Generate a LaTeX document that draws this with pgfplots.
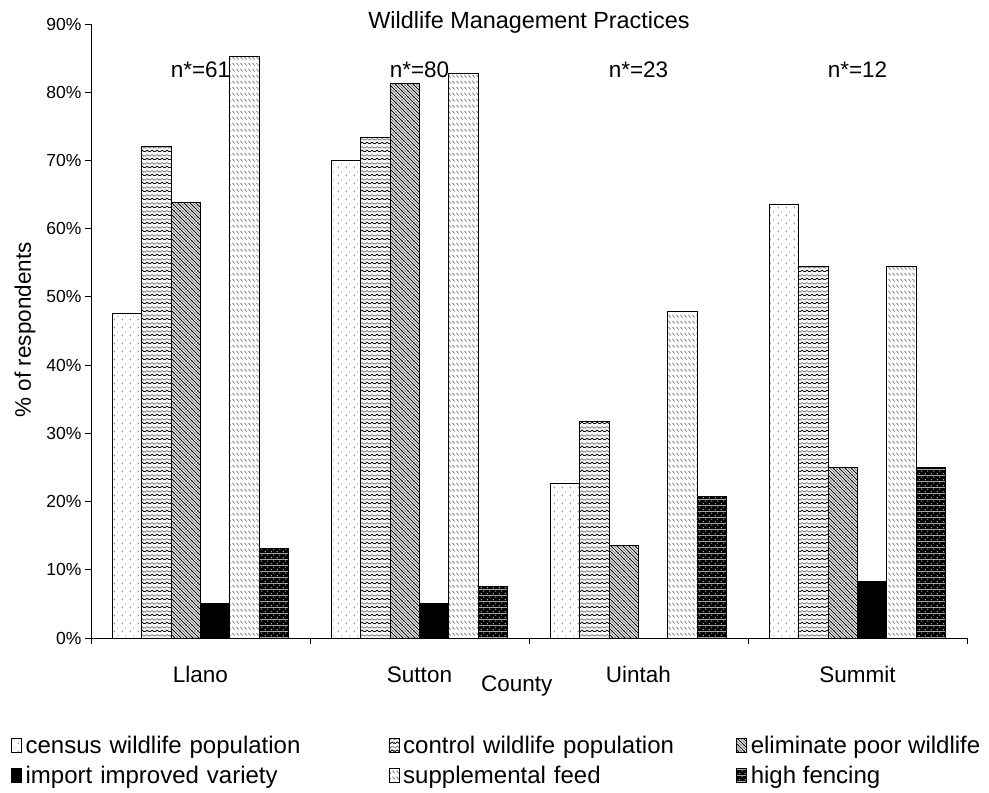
\documentclass[border=0pt]{standalone}
\usepackage{pgfplots}
\pgfplotsset{compat=1.18}
\usepackage{fontspec}
\setmainfont{Liberation Sans}
\usetikzlibrary{patterns}

\pgfdeclarepatterninherentlycolored{censusdots}{\pgfpointorigin}{\pgfpoint{8pt}{8pt}}{\pgfpoint{8pt}{8pt}}{%
  \pgfsetfillcolor{black!65}%
  \pgfpathrectangle{\pgfpoint{2pt}{1pt}}{\pgfpoint{0.9pt}{1.6pt}}%
  \pgfusepath{fill}%
  \pgfsetfillcolor{black!30}%
  \pgfpathrectangle{\pgfpoint{6pt}{5pt}}{\pgfpoint{0.9pt}{1.6pt}}%
  \pgfusepath{fill}%
}
\pgfdeclarepatterninherentlycolored{zigzag}{\pgfpoint{0pt}{0pt}}{\pgfpoint{5pt}{8pt}}{\pgfpoint{5pt}{8pt}}{%
  \pgfsetlinewidth{0.9pt}%
  \pgfsetstrokecolor{black}%
  \pgfpathmoveto{\pgfpoint{-0.2pt}{1.2pt}}\pgfpathlineto{\pgfpoint{2.5pt}{3.2pt}}\pgfpathlineto{\pgfpoint{5.2pt}{1.2pt}}%
  \pgfusepath{stroke}%
  \pgfsetstrokecolor{black!50}%
  \pgfpathmoveto{\pgfpoint{-0.2pt}{5.2pt}}\pgfpathlineto{\pgfpoint{2.5pt}{7.2pt}}\pgfpathlineto{\pgfpoint{5.2pt}{5.2pt}}%
  \pgfusepath{stroke}%
}
\pgfdeclarepatterninherentlycolored{nwdense}{\pgfpoint{-1pt}{-1pt}}{\pgfpoint{7pt}{7pt}}{\pgfpoint{6pt}{6pt}}{%
  \pgfsetlinewidth{0.8pt}%
  \pgfsetstrokecolor{black}%
  \pgfpathmoveto{\pgfpoint{-0.5pt}{6.5pt}}\pgfpathlineto{\pgfpoint{6.5pt}{-0.5pt}}%
  \pgfusepath{stroke}%
  \pgfsetstrokecolor{black!50}%
  \pgfpathmoveto{\pgfpoint{-0.5pt}{3.5pt}}\pgfpathlineto{\pgfpoint{3.5pt}{-0.5pt}}%
  \pgfpathmoveto{\pgfpoint{2.5pt}{6.5pt}}\pgfpathlineto{\pgfpoint{6.5pt}{2.5pt}}%
  \pgfusepath{stroke}%
}
\pgfdeclarepatternformonly{shortdash}{\pgfpointorigin}{\pgfpoint{4pt}{6pt}}{\pgfpoint{4pt}{6pt}}{%
  \pgfsetlinewidth{0.8pt}%
  \pgfpathmoveto{\pgfpoint{0.6pt}{4.8pt}}\pgfpathlineto{\pgfpoint{3.2pt}{1.8pt}}%
  \pgfusepath{stroke}%
}
\pgfdeclarepatterninherentlycolored{whitedots}{\pgfpointorigin}{\pgfpoint{6pt}{6pt}}{\pgfpoint{6pt}{6pt}}{%
  \pgfsetfillcolor{black}%
  \pgfpathrectangle{\pgfpoint{-0.1pt}{-0.1pt}}{\pgfpoint{6.2pt}{6.2pt}}%
  \pgfusepath{fill}%
  \pgfsetfillcolor{white}%
  \pgfpathrectangle{\pgfpoint{1pt}{1pt}}{\pgfpoint{0.9pt}{1.2pt}}%
  \pgfpathrectangle{\pgfpoint{4pt}{4pt}}{\pgfpoint{0.9pt}{1.2pt}}%
  \pgfusepath{fill}%
}

\pgfplotstableread{
x census control eliminate supplemental fencing
0 47.5 72.1 63.9 85.2 13.1
1 70.0 73.4 81.3 82.8 7.5
2 22.7 31.8 13.6 47.8 20.8
3 63.6 54.5 25.0 54.5 25.0
}\data
\pgfplotstableread{
x import
0 5.0
1 5.0
3 8.3
}\importdata

\begin{document}
\begin{tikzpicture}
\begin{axis}[
  name=main,
  scale only axis,
  width=876pt, height=614pt,
  xmin=-0.5, xmax=3.5,
  ymin=0, ymax=90,
  axis lines*=left,
  axis line style={-, line width=0.8pt},
  tick align=outside,
  major tick length=6pt,
  tick style={black, line width=0.8pt},
  xtick={-0.5,0.5,1.5,2.5,3.5},
  xticklabels={,,,,},
  ytick={0,10,...,90},
  yticklabel={\pgfmathprintnumber{\tick}\%},
  /pgf/number format/assume math mode=true,
  tick label style={font=\fontsize{17.5}{20}\selectfont},
  ybar=0pt,
  bar width=0.1342,
  clip=false,
  every axis plot/.append style={draw=black, line width=1pt},
  legend columns=3,
  legend cell align=left,
  legend style={draw=none, fill=none, at={(-0.0913,-0.1564)}, anchor=north west,
    inner sep=0pt, outer sep=0pt, row sep=7pt, column sep=2pt,
    nodes={inner sep=2pt},
    font=\fontsize{24}{28}\selectfont,
    /tikz/column 2/.style={text width=359pt},
    /tikz/column 4/.style={text width=329pt}},
  legend image code/.code={\draw[#1, line width=0.6pt] (0pt,-7pt) rectangle (10pt,7pt);},
]
\addplot[pattern=censusdots] table[x=x, y=census] {\data};
\addplot[pattern=zigzag] table[x=x, y=control] {\data};
\addplot[pattern=nwdense] table[x=x, y=eliminate] {\data};
\addplot[fill=black] table[x=x, y=import] {\importdata};
\addplot[pattern=shortdash, pattern color=black!60] table[x=x, y=supplemental] {\data};
\addplot[pattern=whitedots] table[x=x, y=fencing] {\data};
\legend{census wildlife population, control wildlife population, eliminate poor wildlife, import improved variety, supplemental feed, high fencing}

\node[font=\fontsize{23.4}{27}\selectfont] at (axis description cs:0.5,1.002) {Wildlife Management Practices};
\node[font=\fontsize{22.5}{26}\selectfont] at (axis cs:0,83.3) {n*=61};
\node[font=\fontsize{22.5}{26}\selectfont] at (axis cs:1,83.3) {n*=80};
\node[font=\fontsize{22.5}{26}\selectfont] at (axis cs:2,83.3) {n*=23};
\node[font=\fontsize{22.5}{26}\selectfont] at (axis cs:3,83.3) {n*=12};
\node[font=\fontsize{22.5}{26}\selectfont, anchor=base] at (axis cs:0,-6.45) {Llano};
\node[font=\fontsize{22.5}{26}\selectfont, anchor=base] at (axis cs:1,-6.45) {Sutton};
\node[font=\fontsize{22.5}{26}\selectfont, anchor=base] at (axis cs:2,-6.45) {Uintah};
\node[font=\fontsize{22.5}{26}\selectfont, anchor=base] at (axis cs:3,-6.45) {Summit};
\node[font=\fontsize{22.5}{26}\selectfont] at (axis description cs:0.486,-0.078) {County};
\node[font=\fontsize{22.5}{26}\selectfont, rotate=90] at (axis description cs:-0.0753,0.502) {\% of respondents};
\end{axis}
\pgfresetboundingbox
\path ([shift={(-91pt,638pt)}]main.south west) rectangle ([shift={(898pt,-155pt)}]main.south west);
\end{tikzpicture}
\end{document}
